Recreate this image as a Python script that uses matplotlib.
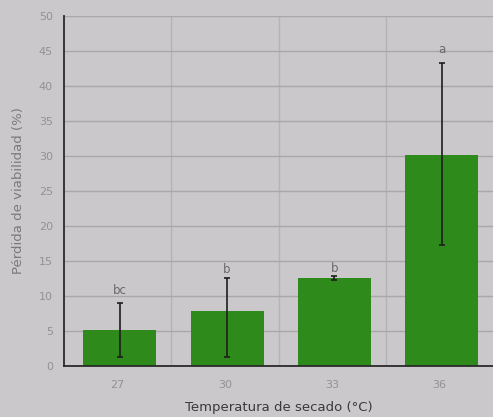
import matplotlib
matplotlib.use("Agg")
import matplotlib.pyplot as plt
import numpy as np

categories = ["27", "30", "33", "36"]
values = [5.1, 7.9, 12.6, 30.1]
err_lower = [3.8, 6.6, 0.3, 12.8]
err_upper = [3.9, 4.7, 0.2, 13.2]
letters = ["bc", "b", "b", "a"]
letter_y = [10.8, 13.8, 14.0, 45.2]
yticks = [0, 5, 10, 15, 20, 25, 30, 35, 40, 45, 50]

bg = "#cac8ca"
fig = plt.figure(figsize=(4.93, 4.17), dpi=100, facecolor=bg)
ax = fig.add_axes([0.13, 0.122, 0.87, 0.84], facecolor=bg)

x = np.arange(len(categories))
ax.bar(x + 0.02, values, width=0.68, color="#2f8a1c", zorder=2)
ax.errorbar(x + 0.02, values, yerr=[err_lower, err_upper], fmt="none",
            ecolor="#1e1e1e", elinewidth=1.2, capsize=2, capthick=1.2, zorder=3)
for xi, lt, ly in zip(x + 0.02, letters, letter_y):
    ax.text(xi, ly, lt, ha="center", va="center", fontsize=8.5, color="#6a6a6a")

ax.set_xlim(-0.5, 3.5)
ax.set_ylim(0, 50)
ax.set_yticks(yticks)
ax.set_xticks(x)
ax.set_xticklabels(categories)
ax.set_xticks([0.5, 1.5, 2.5], minor=True)
ax.grid(axis="y", which="major", color="#a8a8a8", linewidth=1.0, zorder=0)
ax.grid(axis="x", which="minor", color="#b4b4b4", linewidth=1.0, zorder=0)
ax.tick_params(axis="both", which="both", length=0, colors="#929292", labelsize=8)
ax.tick_params(axis="x", pad=10)
ax.tick_params(axis="y", pad=8)
for s in ["top", "right"]:
    ax.spines[s].set_visible(False)
for s in ["left", "bottom"]:
    ax.spines[s].set_color("#2a2a2a")
    ax.spines[s].set_linewidth(1.3)

ax.set_xlabel("Temperatura de secado (°C)", fontsize=9.5, color="#3a3a3a", labelpad=8)
ax.set_ylabel("Pérdida de viabilidad (%)", fontsize=9.5, color="#7a7a7a", labelpad=10)

fig.savefig("out.png", dpi=100, facecolor=bg)
